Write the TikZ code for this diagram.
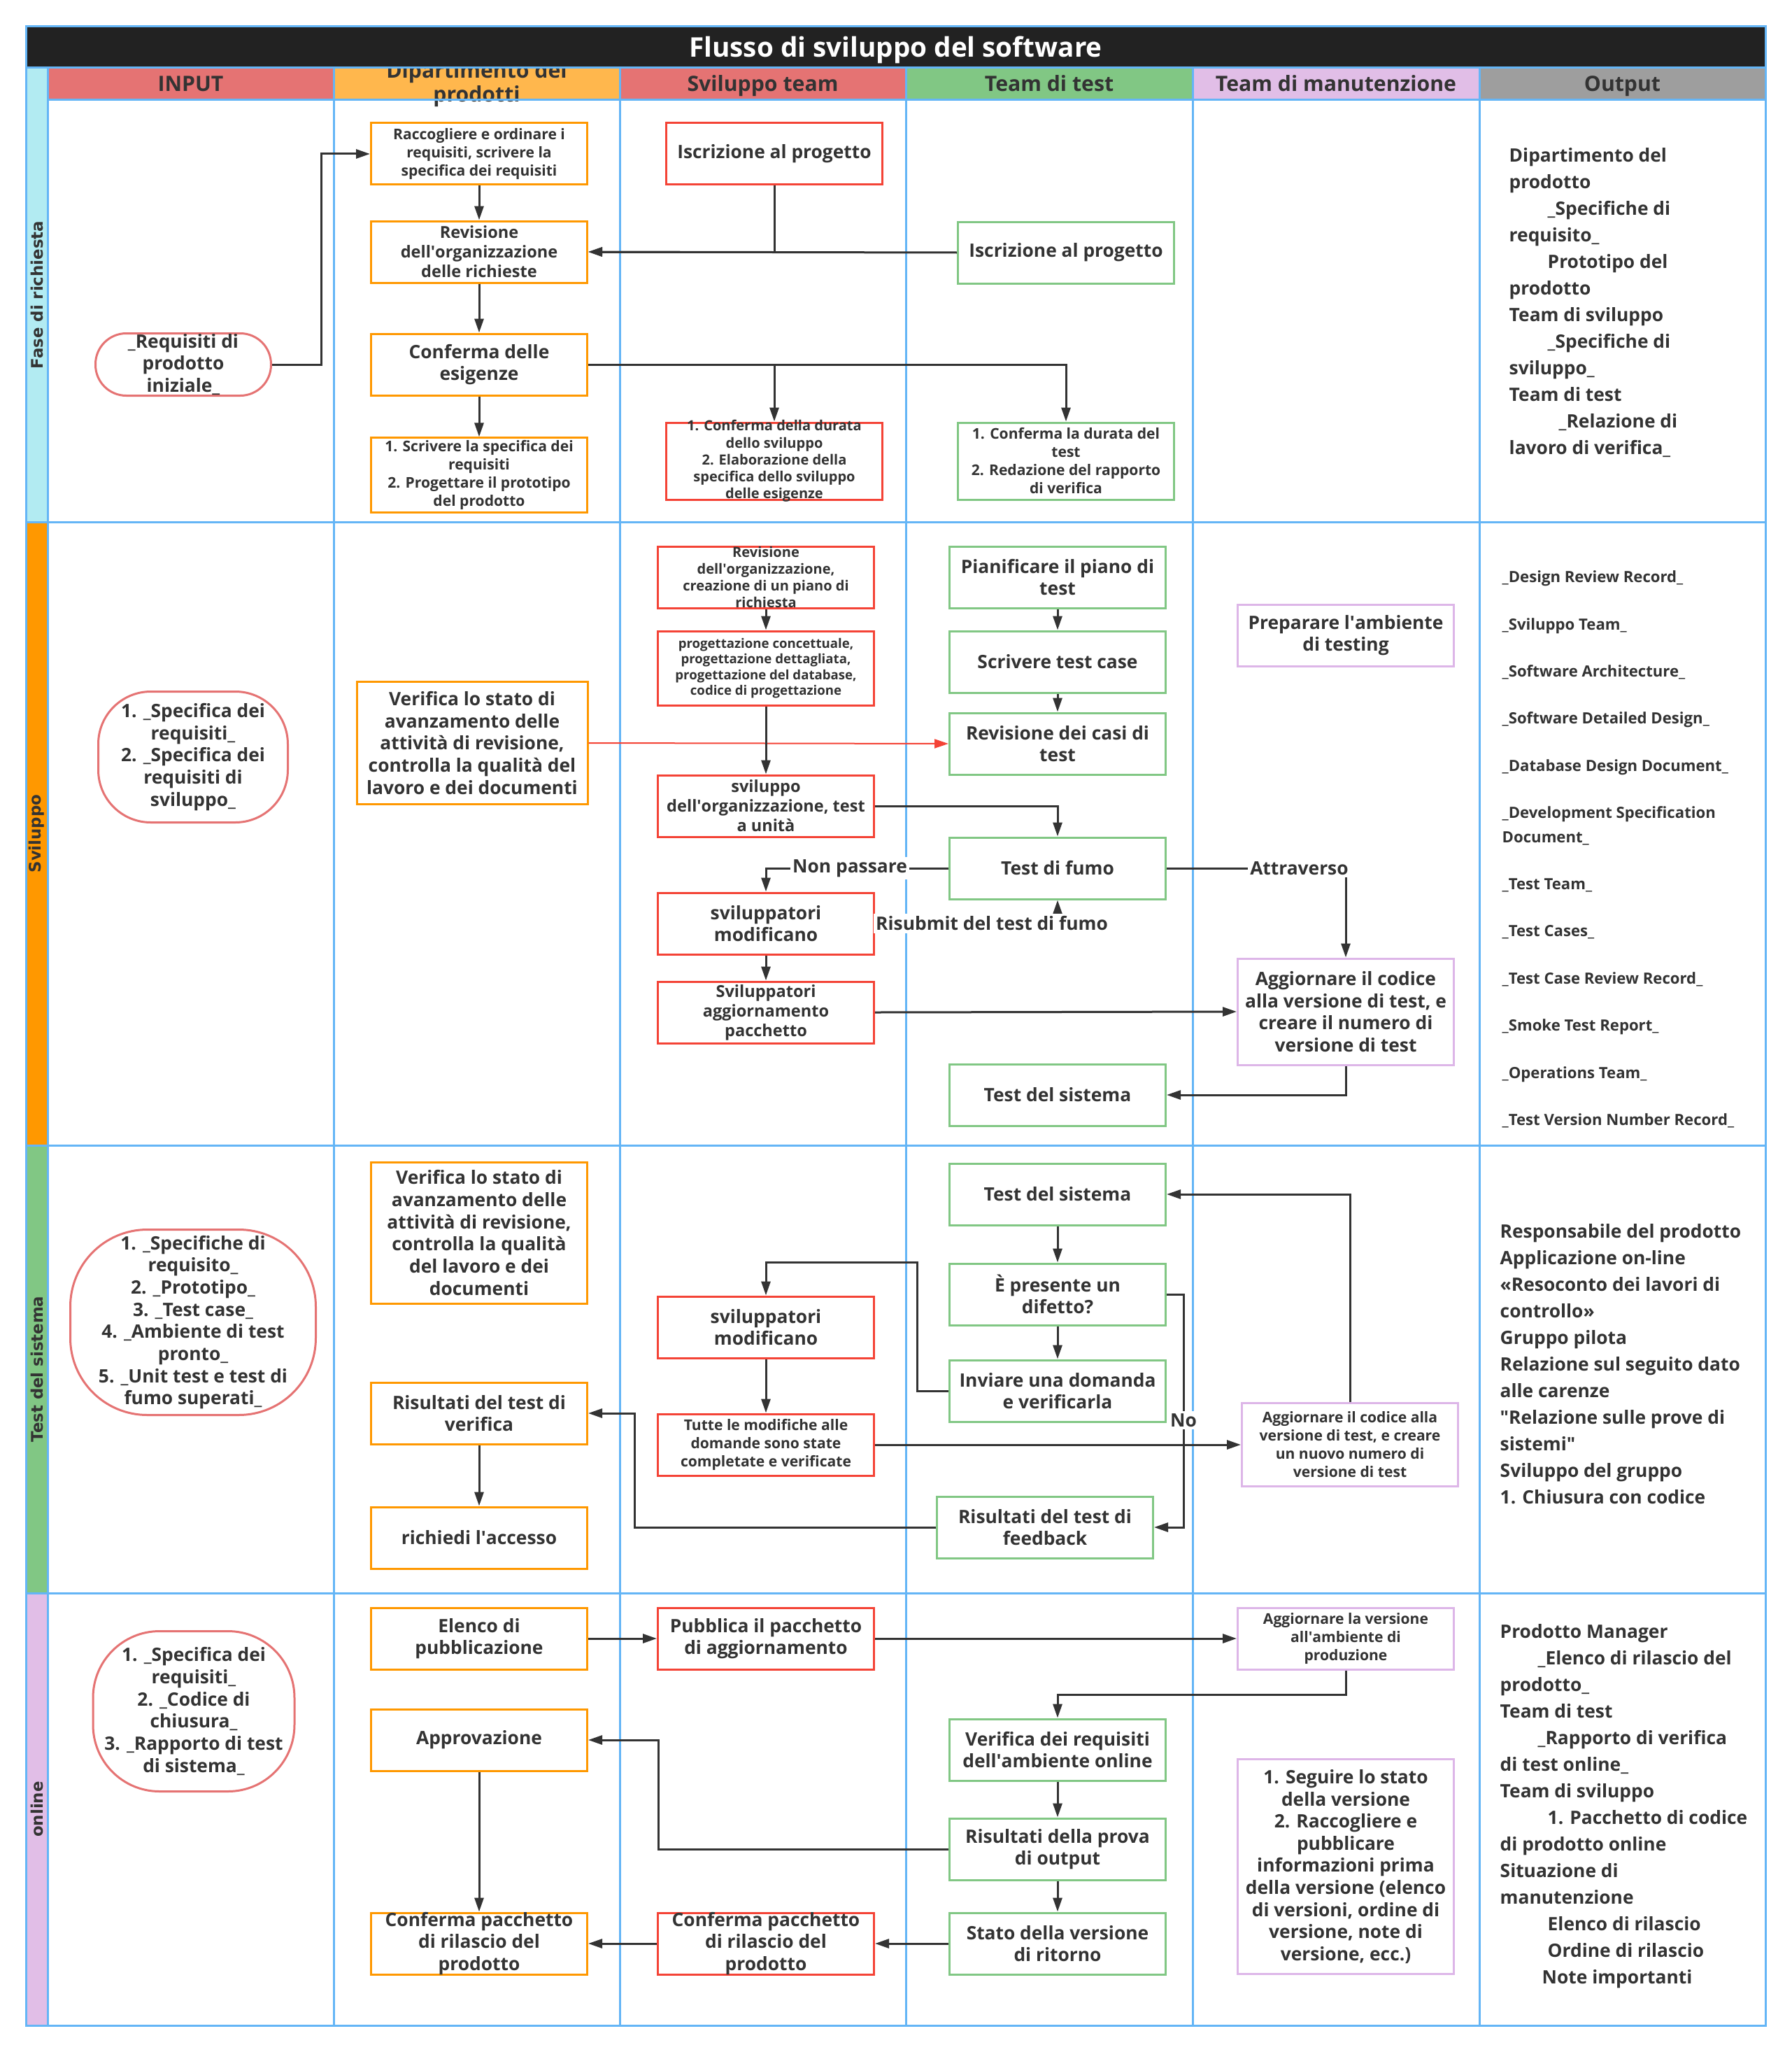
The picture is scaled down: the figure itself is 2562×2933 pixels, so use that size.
\documentclass[tikz,border=0pt]{standalone}
\usepackage{fontspec}
\setmainfont{Open Sans}
\newfontfamily\lanefont{DejaVu Sans}
\usepackage{tikz}
\usetikzlibrary{arrows.meta,positioning,calc}
\definecolor{Ink}{HTML}{333333}
\definecolor{GridBlue}{HTML}{64B5F6}
\definecolor{TitleBlack}{HTML}{222222}
\definecolor{HRed}{HTML}{E57373}
\definecolor{HOrange}{HTML}{FFB74D}
\definecolor{HGreen}{HTML}{81C784}
\definecolor{HPurple}{HTML}{E1BEE7}
\definecolor{HGray}{HTML}{9E9E9E}
\definecolor{LaneCyan}{HTML}{B2EBF2}
\definecolor{LaneOrange}{HTML}{FF9800}
\definecolor{BoxOrange}{HTML}{FF9800}
\definecolor{BoxRed}{HTML}{F44336}
\definecolor{BoxGreen}{HTML}{81C784}
\definecolor{BoxPink}{HTML}{DDB6E8}
\definecolor{OvalRed}{HTML}{E57373}
\newcommand{\fmain}{\fontsize{7.5pt}{9pt}\selectfont\bfseries}
\newcommand{\fmid}{\fontsize{6.7pt}{8pt}\selectfont\bfseries}
\newcommand{\fsmall}{\fontsize{6pt}{7.4pt}\selectfont\bfseries}
\newcommand{\ftiny}{\fontsize{5.7pt}{6.9pt}\selectfont\bfseries}
\newcommand{\fmini}{\fontsize{5.3pt}{6.4pt}\selectfont\bfseries}
\newcommand{\fhead}{\fontsize{8.6pt}{9.7pt}\selectfont\bfseries}
\newcommand{\ftitle}{\fontsize{11pt}{13pt}\selectfont\bfseries}
\newcommand{\flane}{\lanefont\fontsize{6.5pt}{7pt}\selectfont\bfseries}
\newcommand{\ap}{\textquotesingle}
\newcommand{\dq}{\textquotedbl}
\tikzset{
  flowbox/.style={draw=#1, line width=0.3mm, fill=white, text=Ink, align=center,
    minimum width=30.9mm, minimum height=8.8mm, inner sep=1pt, font=\fmain},
  flowbox/.default={Ink},
  ovalbox/.style={draw=OvalRed, line width=0.3mm, fill=white, text=Ink,
    align=center, inner sep=1pt, font=\fmain},
  squeeze/.style={inner ysep=-1mm},
  flowarr/.style={-{Triangle[length=2mm,width=1.3mm]}, line width=0.3mm, color=Ink},
  flowlbl/.style={fill=white, text=Ink, font=\fmain, inner sep=1pt},
}

\begin{document}
\begin{tikzpicture}[x=0.1mm, y=-0.1mm,
  lanecell/.style={rotate=90, minimum height=3.1mm, inner sep=0, font=\flane, text=Ink},
  hcell/.style={minimum width=40.9mm, minimum height=4.6mm, inner sep=0, font=\fhead,
    text=Ink, text height=2.5mm, text depth=0.35mm},
  gridline/.style={draw=GridBlue, line width=0.3mm},
  outtext/.style={anchor=north west, align=left, inner sep=0, text=Ink},
]
  \useasboundingbox (0,0) rectangle (2562,2933);

  % swimlane labels
  \node[lanecell, fill=LaneCyan, minimum width=64.9mm] (laneReq) at (52.5,421.5) {Fase di richiesta};
  \node[lanecell, fill=LaneOrange, minimum width=89.1mm] (laneDev) at (52.5,1191.5) {Sviluppo};
  \node[lanecell, fill=HGreen, minimum width=64mm] (laneTest) at (52.5,1957) {Test del sistema};
  \node[lanecell, fill=HPurple, minimum width=61.8mm] (laneOn) at (52.5,2586) {online};

  % column headers
  \node[hcell, fill=HRed] (hInput) at (272.5,120) {INPUT};
  \node[hcell, fill=HOrange] (hDip) at (681.5,120) {};
  \node[align=center, font=\fhead, text=Ink, inner sep=0] (hDipText) at (681.5,121) {Dipartimento dei\\prodotti};
  \node[hcell, fill=HRed] (hDev) at (1090.5,120) {Sviluppo team};
  \node[hcell, fill=HGreen] (hTest) at (1500,120) {Team di test};
  \node[hcell, fill=HPurple] (hMaint) at (1910,120) {Team di manutenzione};
  \node[hcell, fill=HGray] (hOut) at (2319.5,120) {Output};

  \node[fill=TitleBlack, text=white, font=\ftitle, minimum width=248.7mm,
    minimum height=5.9mm, inner sep=0, text height=3.1mm, text depth=0.35mm] (title) at (1280.5,67.5) {Flusso di sviluppo del software};

  % grid
  \draw[gridline] (37,38) rectangle (2524,2895);
  \draw[gridline] (37,97) -- (2524,97);
  \draw[gridline] (68,143) -- (2524,143);
  \foreach \y in {746,1637,2277} \draw[gridline] (37,\y) -- (2524,\y);
  \foreach \x in {68,477,886,1295,1705,2115} \draw[gridline] (\x,97) -- (\x,2895);

  % Fase di richiesta
  \node[ovalbox, minimum width=25.1mm, minimum height=8.9mm, rounded corners=4.4mm, squeeze] (reqIn) at (262,521)
    {\_Requisiti di\\prodotto\\iniziale\_};
  \node[flowbox=BoxOrange, font=\fsmall] (collect) at (685,220)
    {Raccogliere e ordinare i\\requisiti, scrivere la\\specifica dei requisiti};
  \node[flowbox=BoxOrange, font=\fmid] (reqReview) at (685,360)
    {Revisione\\dell\ap organizzazione\\delle richieste};
  \node[flowbox=BoxOrange] (reqConfirm) at (685,521) {Conferma delle\\esigenze};
  \node[flowbox=BoxOrange, font=\fsmall, minimum height=10.6mm] (specWrite) at (685,679)
    {1. Scrivere la specifica dei\\requisiti\\2. Progettare il prototipo\\del prodotto};
  \node[flowbox=BoxRed] (devJoin) at (1107,220) {Iscrizione al progetto};
  \node[flowbox=BoxRed, font=\ftiny, minimum height=11mm, squeeze] (devDuration) at (1107,659)
    {1. Conferma della durata\\dello sviluppo\\2. Elaborazione della\\specifica dello sviluppo\\delle esigenze};
  \node[flowbox=BoxGreen] (testJoin) at (1524,361) {Iscrizione al progetto};
  \node[flowbox=BoxGreen, font=\fsmall, minimum height=11mm] (testDuration) at (1524,659)
    {1. Conferma la durata del\\test\\2. Redazione del rapporto\\di verifica};

  % Sviluppo
  \node[ovalbox, minimum width=27.1mm, minimum height=18.7mm, rounded corners=7.5mm] (devIn) at (276,1082)
    {1. \_Specifica dei\\requisiti\_\\2. \_Specifica dei\\requisiti di\\sviluppo\_};
  \node[flowbox=BoxOrange, minimum width=33mm, minimum height=17.5mm] (devCheck) at (675,1062)
    {Verifica lo stato di\\avanzamento delle\\attività di revisione,\\controlla la qualità del\\lavoro e dei documenti};
  \node[flowbox=BoxRed, font=\ftiny, squeeze] (orgReview) at (1095,825)
    {Revisione\\dell\ap organizzazione,\\creazione di un piano di\\richiesta};
  \node[flowbox=BoxRed, font=\fmini, minimum height=10.6mm] (design) at (1095,955)
    {progettazione concettuale,\\progettazione dettagliata,\\progettazione del database,\\codice di progettazione};
  \node[flowbox=BoxRed, font=\fmid] (unitTest) at (1095,1152)
    {sviluppo\\dell\ap organizzazione, test\\a unità};
  \node[flowbox=BoxRed] (devFix) at (1095,1320) {sviluppatori\\modificano};
  \node[flowbox=BoxRed, font=\fmid] (devPackage) at (1095,1447)
    {Sviluppatori\\aggiornamento\\pacchetto};
  \node[flowbox=BoxGreen] (testPlan) at (1512,825) {Pianificare il piano di\\test};
  \node[flowbox=BoxGreen] (testCases) at (1512,946) {Scrivere test case};
  \node[flowbox=BoxGreen] (caseReview) at (1512,1063) {Revisione dei casi di\\test};
  \node[flowbox=BoxGreen] (smoke) at (1512,1241) {Test di fumo};
  \node[flowbox=BoxGreen] (sysTestA) at (1512,1565) {Test del sistema};
  \node[flowbox=BoxPink] (testEnv) at (1924,908) {Preparare l\ap ambiente\\di testing};
  \node[flowbox=BoxPink, minimum height=15.2mm] (testVersion) at (1924,1446)
    {Aggiornare il codice\\alla versione di test, e\\creare il numero di\\versione di test};

  % Test del sistema
  \node[ovalbox, minimum width=35.1mm, minimum height=26.5mm, rounded corners=11mm] (sysIn) at (276,1890)
    {1. \_Specifiche di\\requisito\_\\2. \_Prototipo\_\\3. \_Test case\_\\4. \_Ambiente di test\\pronto\_\\5. \_Unit test e test di\\fumo superati\_};
  \node[flowbox=BoxOrange, minimum height=20.2mm] (sysCheck) at (685,1762)
    {Verifica lo stato di\\avanzamento delle\\attività di revisione,\\controlla la qualità\\del lavoro e dei\\documenti};
  \node[flowbox=BoxOrange] (verifyResult) at (685,2020) {Risultati del test di\\verifica};
  \node[flowbox=BoxOrange] (access) at (685,2198) {richiedi l\ap accesso};
  \node[flowbox=BoxRed] (sysFix) at (1095,1897) {sviluppatori\\modificano};
  \node[flowbox=BoxRed, font=\fsmall] (allDone) at (1095,2065)
    {Tutte le modifiche alle\\domande sono state\\completate e verificate};
  \node[flowbox=BoxGreen] (sysTestB) at (1512,1707) {Test del sistema};
  \node[flowbox=BoxGreen] (defect) at (1512,1850) {È presente un\\difetto?};
  \node[flowbox=BoxGreen] (sendIssue) at (1512,1988) {Inviare una domanda\\e verificarla};
  \node[flowbox=BoxGreen] (feedback) at (1494,2183) {Risultati del test di\\feedback};
  \node[flowbox=BoxPink, font=\fsmall, minimum height=11.9mm] (newVersion) at (1930,2065)
    {Aggiornare il codice alla\\versione di test, e creare\\un nuovo numero di\\versione di test};

  % online
  \node[ovalbox, minimum width=28.8mm, minimum height=22.9mm, rounded corners=9.5mm] (onIn) at (277,2446)
    {1. \_Specifica dei\\requisiti\_\\2. \_Codice di\\chiusura\_\\3. \_Rapporto di test\\di sistema\_};
  \node[flowbox=BoxOrange] (relList) at (685,2342) {Elenco di\\pubblicazione};
  \node[flowbox=BoxOrange] (approval) at (685,2487) {Approvazione};
  \node[flowbox=BoxOrange, squeeze] (relConfirmP) at (685,2778) {Conferma pacchetto\\di rilascio del\\prodotto};
  \node[flowbox=BoxRed] (publish) at (1095,2342) {Pubblica il pacchetto\\di aggiornamento};
  \node[flowbox=BoxRed, squeeze] (relConfirmD) at (1095,2778) {Conferma pacchetto\\di rilascio del\\prodotto};
  \node[flowbox=BoxPink, font=\fsmall] (prodEnv) at (1924,2342)
    {Aggiornare la versione\\all\ap ambiente di\\produzione};
  \node[flowbox=BoxGreen] (envCheck) at (1512,2501) {Verifica dei requisiti\\dell\ap ambiente online};
  \node[flowbox=BoxGreen] (outResult) at (1512,2643) {Risultati della prova\\di output};
  \node[flowbox=BoxGreen] (backState) at (1512,2778) {Stato della versione\\di ritorno};
  \node[flowbox=BoxPink, minimum height=30.7mm] (relNotes) at (1924,2668)
    {1. Seguire lo stato\\della versione\\2. Raccogliere e\\pubblicare\\informazioni prima\\della versione (elenco\\di versioni, ordine di\\versione, note di\\versione, ecc.)};

  % output column
  \node[outtext, font=\fontsize{7.5pt}{10.8pt}\selectfont\bfseries] (outReq) at (2157,211)
    {Dipartimento del\\prodotto\\\hspace*{5.5mm}\_Specifiche di\\requisito\_\\\hspace*{5.5mm}Prototipo del\\prodotto\\Team di sviluppo\\\hspace*{5.5mm}\_Specifiche di\\sviluppo\_\\Team di test\\\hspace*{7.1mm}\_Relazione di\\lavoro di verifica\_};
  \node[outtext, font=\fontsize{6.3pt}{9.7pt}\selectfont\bfseries] (outDev) at (2147,815)
    {\_Design Review Record\_\\[9.5pt]\_Sviluppo Team\_\\[9.5pt]\_Software Architecture\_\\[9.5pt]\_Software Detailed Design\_\\[9.5pt]\_Database Design Document\_\\[9.5pt]\_Development Specification\\Document\_\\[9.5pt]\_Test Team\_\\[9.5pt]\_Test Cases\_\\[9.5pt]\_Test Case Review Record\_\\[9.5pt]\_Smoke Test Report\_\\[9.5pt]\_Operations Team\_\\[9.5pt]\_Test Version Number Record\_};
  \node[outtext, font=\fontsize{7.5pt}{10.8pt}\selectfont\bfseries] (outTest) at (2144,1749)
    {Responsabile del prodotto\\Applicazione on-line\\«Resoconto dei lavori di\\controllo»\\Gruppo pilota\\Relazione sul seguito dato\\alle carenze\\\dq Relazione sulle prove di\\sistemi\dq\\Sviluppo del gruppo\\1. Chiusura con codice};
  \node[outtext, font=\fontsize{7.5pt}{10.8pt}\selectfont\bfseries] (outOn) at (2144,2321)
    {Prodotto Manager\\\hspace*{5.4mm}\_Elenco di rilascio del\\prodotto\_\\Team di test\\\hspace*{5.4mm}\_Rapporto di verifica\\di test online\_\\Team di sviluppo\\\hspace*{6.8mm}1. Pacchetto di codice\\di prodotto online\\Situazione di\\manutenzione\\\hspace*{6.8mm}Elenco di rilascio\\\hspace*{6.8mm}Ordine di rilascio\\\hspace*{6mm}Note importanti};

  % connectors: Fase di richiesta
  \draw[flowarr] (reqIn.east) -- ++(70,0) |- (collect.west);
  \draw[flowarr] (collect) -- (reqReview);
  \draw[flowarr] (devJoin.south) |- (reqReview.east);
  \draw[flowarr] (testJoin.west) -- (reqReview.east);
  \draw[flowarr] (reqReview) -- (reqConfirm);
  \draw[flowarr] (reqConfirm) -- (specWrite);
  \draw[flowarr] (reqConfirm.east) -| (testDuration.north);
  \draw[flowarr] (reqConfirm.east -| devDuration.north) -- (devDuration.north);

  % connectors: Sviluppo
  \draw[flowarr] (orgReview) -- (design);
  \draw[-{Triangle[length=2mm,width=1.3mm]}, line width=0.2mm, BoxRed] (devCheck.east) -- (caseReview.west);
  \draw[flowarr] (design) -- (unitTest);
  \draw[flowarr] (unitTest.east) -| (smoke.north);
  \draw[flowarr] (testPlan) -- (testCases);
  \draw[flowarr] (testCases) -- (caseReview);
  \draw[flowarr] (smoke.west) -| node[flowlbl, pos=0.27] {Non passare} (devFix.north);
  \draw[flowarr] (devFix.east) -| node[flowlbl, pos=0.32] {Risubmit del test di fumo} (smoke.south);
  \draw[flowarr] (devFix) -- (devPackage);
  \draw[flowarr] (devPackage.east) -- (testVersion.west);
  \draw[flowarr] (smoke.east) -| node[flowlbl, pos=0.37] {Attraverso} (testVersion.north);
  \draw[flowarr] (testVersion.south) |- (sysTestA.east);

  % connectors: Test del sistema
  \draw[flowarr] (sysTestB) -- (defect);
  \draw[flowarr] (defect) -- (sendIssue);
  \draw[flowarr] (sendIssue.west) -- ++(-45,0) |- ($(sysFix.north)+(0,-47)$) -- (sysFix.north);
  \draw[flowarr] (sysFix) -- (allDone);
  \draw[flowarr] (allDone.east) -- (newVersion.west);
  \draw[flowarr] (newVersion.north) |- (sysTestB.east);
  \draw[flowarr] (defect.east) -- ++(24,0) |- node[flowlbl, pos=0.27] {No} (feedback.east);
  \draw[flowarr] (feedback.west) -| ($(verifyResult.east)+(66,0)$) -- (verifyResult.east);
  \draw[flowarr] (verifyResult) -- (access);

  % connectors: online
  \draw[flowarr] (relList) -- (publish);
  \draw[flowarr] (publish) -- (prodEnv);
  \draw[flowarr] (prodEnv.south) -- ++(0,35) -| (envCheck.north);
  \draw[flowarr] (envCheck) -- (outResult);
  \draw[flowarr] (outResult) -- (backState);
  \draw[flowarr] (outResult.west) -| ($(approval.east)+(100,0)$) -- (approval.east);
  \draw[flowarr] (approval) -- (relConfirmP);
  \draw[flowarr] (backState) -- (relConfirmD);
  \draw[flowarr] (relConfirmD) -- (relConfirmP);
\end{tikzpicture}
\end{document}
